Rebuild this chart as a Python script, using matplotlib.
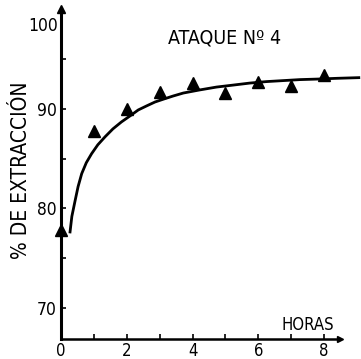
import matplotlib
matplotlib.use("Agg")
import matplotlib.pyplot as plt

# Data
hours_pts = [0, 1, 2, 3, 4, 5, 6, 7, 8]
extr_pts = [77.8, 87.8, 90.0, 91.7, 92.6, 91.6, 92.7, 92.3, 93.4]

curve_t = [0.27, 0.33, 0.43, 0.52, 0.63, 0.77, 0.93, 1.12, 1.34, 1.58, 1.84, 2.10, 2.35, 2.60,
           2.86, 3.13, 3.41, 3.72, 4.20, 4.73, 5.24, 5.74, 6.25, 6.76, 7.27, 7.77, 8.40, 9.10]
curve_y = [77.5, 79.2, 80.8, 82.2, 83.5, 84.6, 85.5, 86.4, 87.2, 88.0, 88.7, 89.3, 89.9, 90.3,
           90.7, 91.0, 91.3, 91.6, 91.9, 92.2, 92.4, 92.6, 92.75, 92.85, 92.95, 93.0, 93.08, 93.15]

xticks = [0, 2, 4, 6, 8]
xminor = [1, 3, 5, 7]
yticks = [70, 80, 90]
yminor = [75, 85, 95]

plt.rcParams['font.family'] = ['DejaVu Sans']
plt.rcParams['font.stretch'] = 'condensed'

W, H = 361, 359
fig = plt.figure(figsize=(W / 100, H / 100), dpi=100)
ax = fig.add_axes([61 / W, 20 / H, 300 / W, 339 / H])

ax.set_xlim(0, 9.125)
ax.set_ylim(66.88, 100.95)

ax.plot(curve_t, curve_y, color='black', lw=2.0, solid_capstyle='butt')
ax.plot(hours_pts, extr_pts, linestyle='none', marker='^', color='black', markersize=8,
        clip_on=False, zorder=5)

for s in ['top', 'right']:
    ax.spines[s].set_visible(False)
ax.spines['left'].set_linewidth(2.2)
ax.spines['bottom'].set_linewidth(1.8)
ax.spines['left'].set_bounds(66.88, 100.0)
ax.spines['bottom'].set_bounds(0, 8.5)

ax.plot([0], [100.0], marker='^', color='black', markersize=6, clip_on=False)
ax.plot([8.5], [66.88], marker='>', color='black', markersize=5, clip_on=False)

ax.set_xticks(xticks)
ax.set_xticks(xminor, minor=True)
ax.set_yticks(yticks)
ax.set_yticks(yminor, minor=True)
ax.tick_params(axis='both', which='both', direction='in', length=3.5, width=1.2)
ax.tick_params(axis='x', which='major', pad=2, labelsize=12)
ax.tick_params(axis='y', which='major', pad=3, labelsize=12.5)

fig.text(43 / W, 1 - 26 / H, '100', ha='center', va='center', fontsize=12.5)
fig.text(225 / W, 1 - 38 / H, 'ATAQUE Nº 4', ha='center', va='center', fontsize=14)
fig.text(308 / W, 1 - 325 / H, 'HORAS', ha='center', va='center', fontsize=12)
fig.text(21 / W, 1 - 170 / H, '% DE EXTRACCIÓN', ha='center', va='center', fontsize=15,
         rotation=90)

fig.savefig('out.png', dpi=100)
